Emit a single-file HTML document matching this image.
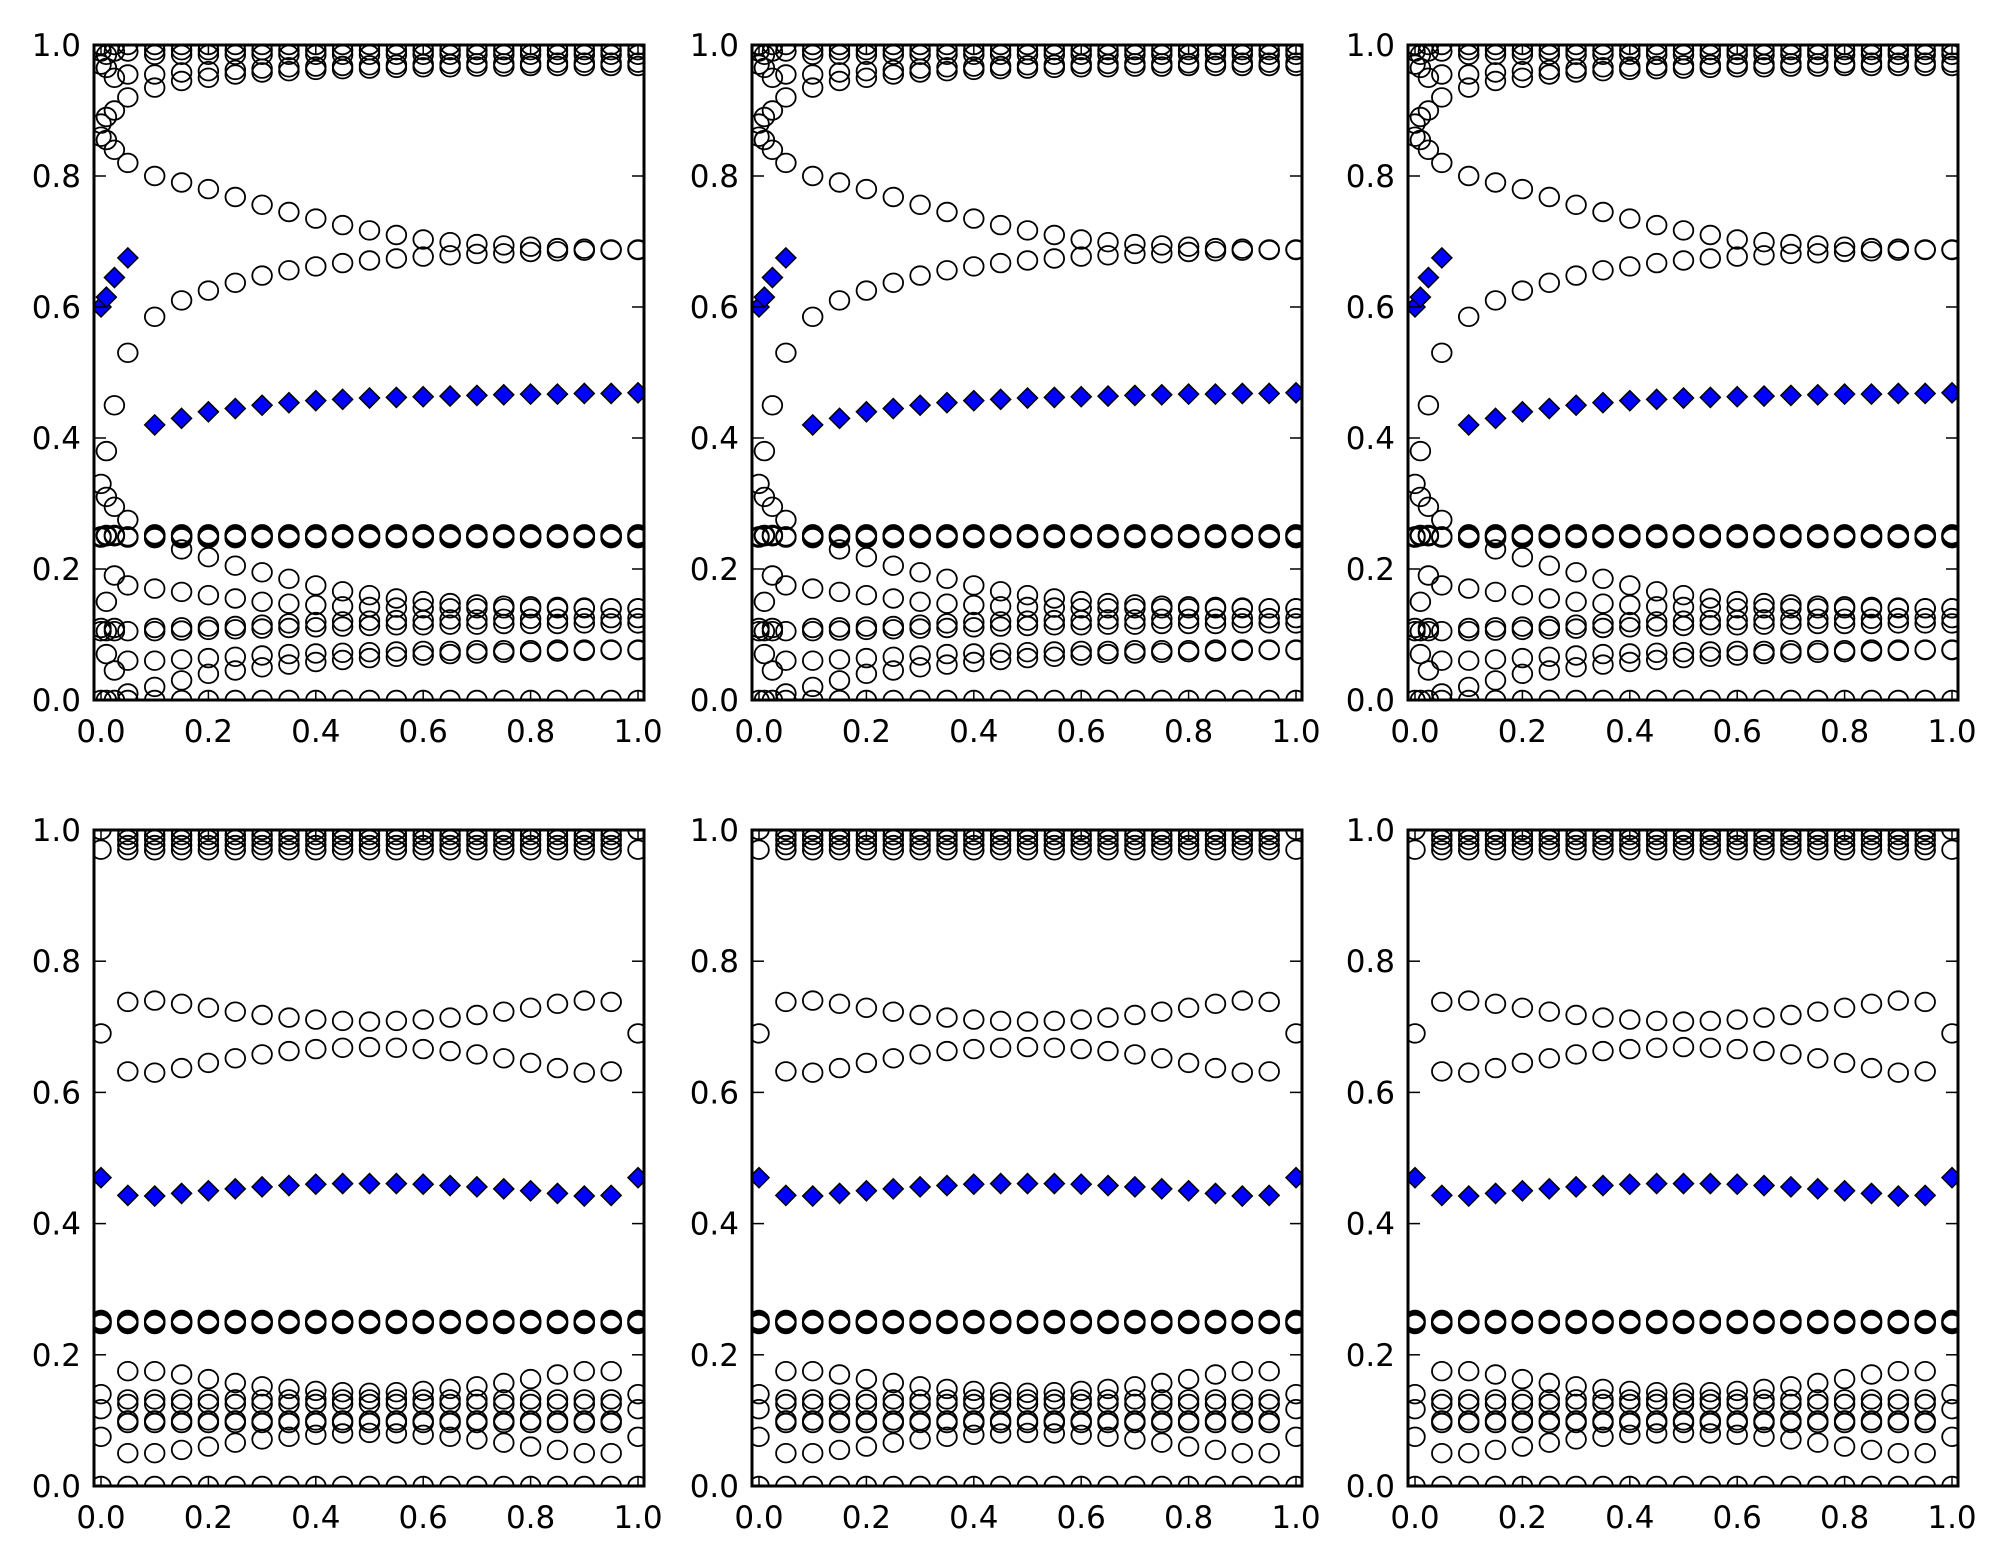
<!DOCTYPE html>
<html><head><meta charset="utf-8"><style>html,body{margin:0;padding:0;background:#fff}svg{display:block}</style></head>
<body>
<svg id="s" width="2004" height="1565" xmlns="http://www.w3.org/2000/svg" font-family="DejaVu Sans, Liberation Sans, sans-serif" font-size="31">
<g id="labels"></g>
</svg>
<script>
var S=document.getElementById('s'),NS='http://www.w3.org/2000/svg';
function el(t,a,p){var e=document.createElementNS(NS,t);for(var k in a)e.setAttribute(k,a[k]);(p||S).appendChild(e);return e;}
var cols=[94,752,1408],rows=[[45,700],[830,1486]];
var FW=550,DX=7,DW=537;
function sym(a){var r=a.slice();for(var i=a.length-2;i>=0;i--)r.push(a[i]);return r;}
var xt=[0.1,0.15,0.2,0.25,0.3,0.35,0.4,0.45,0.5,0.55,0.6,0.65,0.7,0.75,0.8,0.85,0.9,0.95,1.0];
var Q=[0.247,0.2485,0.25,0.2515,0.253];
function topSeries(){
 var C=[],D=[];
 var up=[0.80,0.79,0.78,0.768,0.756,0.745,0.735,0.725,0.717,0.71,0.703,0.699,0.696,0.694,0.692,0.69,0.689,0.688,0.688];
 var lo=[0.585,0.61,0.625,0.637,0.648,0.656,0.662,0.667,0.671,0.674,0.677,0.679,0.681,0.682,0.684,0.685,0.686,0.687,0.687];
 var dm=[0.42,0.43,0.44,0.445,0.45,0.454,0.457,0.459,0.461,0.462,0.463,0.464,0.465,0.466,0.467,0.467,0.468,0.468,0.469];
 var a1=[0.25,0.23,0.218,0.205,0.195,0.185,0.175,0.166,0.16,0.155,0.151,0.148,0.146,0.144,0.143,0.142,0.141,0.14,0.14];
 var a2=[0.17,0.165,0.16,0.155,0.15,0.147,0.145,0.143,0.142,0.141,0.14,0.14,0.14,0.14,0.14,0.14,0.14,0.14,0.14];
 var a3=[0.105,0.106,0.107,0.108,0.109,0.11,0.111,0.112,0.113,0.114,0.114,0.115,0.115,0.116,0.116,0.116,0.117,0.117,0.117];
 var a4=[0.11,0.111,0.112,0.113,0.115,0.117,0.119,0.12,0.121,0.122,0.122,0.123,0.123,0.124,0.124,0.124,0.125,0.125,0.125];
 var a5=[0.06,0.062,0.064,0.066,0.068,0.07,0.071,0.072,0.073,0.074,0.075,0.075,0.076,0.076,0.076,0.077,0.077,0.077,0.077];
 var a6=[0.02,0.03,0.04,0.045,0.05,0.054,0.058,0.061,0.064,0.066,0.068,0.07,0.071,0.072,0.073,0.074,0.075,0.076,0.076];
 var t1=[0.935,0.945,0.95,0.955,0.958,0.96,0.962,0.963,0.964,0.965,0.966,0.966,0.967,0.967,0.968,0.968,0.968,0.968,0.968];
 var t2=[0.955,0.958,0.96,0.962,0.964,0.966,0.967,0.968,0.969,0.97,0.971,0.971,0.972,0.972,0.972,0.973,0.973,0.973,0.973];
 for(var i=0;i<xt.length;i++){var x=xt[i];
  [up[i],lo[i],a1[i],a2[i],a3[i],a4[i],a5[i],a6[i],t1[i],t2[i],1.0,0.992,0.985,0.0].concat(Q).forEach(function(y){C.push([x,y]);});
  D.push([x,dm[i]]);}
 var e=[[0,0.88],[0.01,0.89],[0.025,0.9],[0.05,0.92],[0,0.86],[0.01,0.855],[0.025,0.84],[0.05,0.82],
 [0,0.97],[0.01,0.965],[0.025,0.95],[0.05,0.955],[0,0.99],[0.01,0.985],[0.025,0.99],[0.05,0.99],[0,1],[0.025,1],[0.05,1],
 [0.05,0.53],[0.025,0.45],[0.01,0.38],[0,0.33],[0.01,0.31],[0.025,0.295],[0.05,0.275],
 [0,0.25],[0.01,0.25],[0.025,0.25],[0.05,0.25],[0,0.248],[0.025,0.252],[0.05,0.248],[0.01,0.252],
 [0.025,0.19],[0.05,0.175],[0.01,0.15],[0,0.105],[0.01,0.105],[0.025,0.105],[0.05,0.105],[0,0.11],[0.025,0.11],
 [0.01,0.07],[0.025,0.045],[0.05,0.06],[0.05,0.01],[0,0],[0.01,0],[0.025,0],[0.05,0]];
 C=C.concat(e);
 D=D.concat([[0,0.6],[0.01,0.615],[0.025,0.645],[0.05,0.675]]);
 return [C,D];}
function botSeries(){
 var C=[],D=[];
 var xs=[];for(var i=1;i<=19;i++)xs.push(i*0.05);
 var up=sym([0.738,0.74,0.735,0.729,0.723,0.718,0.714,0.711,0.709,0.708]);
 var lo=sym([0.632,0.63,0.637,0.645,0.652,0.658,0.663,0.666,0.668,0.669]);
 var dm=sym([0.443,0.442,0.446,0.45,0.453,0.456,0.458,0.46,0.461,0.461]);
 var b1=sym([0.175,0.175,0.17,0.163,0.157,0.152,0.148,0.145,0.143,0.142]);
 var b5=sym([0.05,0.05,0.055,0.06,0.066,0.071,0.075,0.078,0.08,0.081]);
 for(var i=0;i<xs.length;i++){var x=xs[i];
  [up[i],lo[i],b1[i],b5[i],0.132,0.125,0.1,0.096,1.0,0.992,0.985,0.977,0.969,0.0].concat(Q).forEach(function(y){C.push([x,y]);});
  D.push([x,dm[i]]);}
 [0,1].forEach(function(x){[1.0,0.97,0.69,0.14,0.117,0.075,0.0].concat(Q).forEach(function(y){C.push([x,y]);});D.push([x,0.47]);});
 return [C,D];}
var T=topSeries(),B=botSeries();
var lab=document.getElementById('labels');
for(var r=0;r<2;r++)for(var c=0;c<3;c++){
 var L=cols[c],Y0=rows[r][0],Y1=rows[r][1],x0=L+DX;
 var id='cp'+r+c;
 var cp=el('clipPath',{id:id});el('rect',{x:L,y:Y0-1,width:FW,height:Y1-Y0+2},cp);
 var g=el('g',{'clip-path':'url(#'+id+')'});
 var data=r==0?T:B;
 function px(x){return x0+x*DW;} function py(y){return Y1-y*(Y1-Y0);}
 data[0].forEach(function(p){el('ellipse',{cx:px(p[0]).toFixed(1),cy:py(p[1]).toFixed(1),rx:9.8,ry:9.3,fill:'none',stroke:'#000','stroke-width':1.8},g);});
 data[1].forEach(function(p){var X=px(p[0]),Yy=py(p[1]);el('path',{d:'M'+X+' '+(Yy-10)+'L'+(X+10)+' '+Yy+'L'+X+' '+(Yy+10)+'L'+(X-10)+' '+Yy+'Z',fill:'#0000ff',stroke:'#000','stroke-width':1.5},g);});
 for(var k=0;k<=5;k++){var v=k*0.2,X=px(v),Yy=py(v);
  el('line',{x1:X,y1:Y1,x2:X,y2:Y1-10,stroke:'#000','stroke-width':1.5});
  el('line',{x1:X,y1:Y0,x2:X,y2:Y0+10,stroke:'#000','stroke-width':1.5});
  el('line',{x1:L,y1:Yy,x2:L+12,y2:Yy,stroke:'#000','stroke-width':1.5});
  el('line',{x1:L+FW,y1:Yy,x2:L+FW-12,y2:Yy,stroke:'#000','stroke-width':1.5});
  var s=v.toFixed(1);
  var t1=el('text',{x:X,y:Y1+42,'text-anchor':'middle'},lab);t1.textContent=s;
  var t2=el('text',{x:L-13,y:Yy+11,'text-anchor':'end'},lab);t2.textContent=s;
 }
 el('rect',{x:L,y:Y0,width:FW,height:Y1-Y0,fill:'none',stroke:'#000','stroke-width':3});
}
</script>
</body></html>
